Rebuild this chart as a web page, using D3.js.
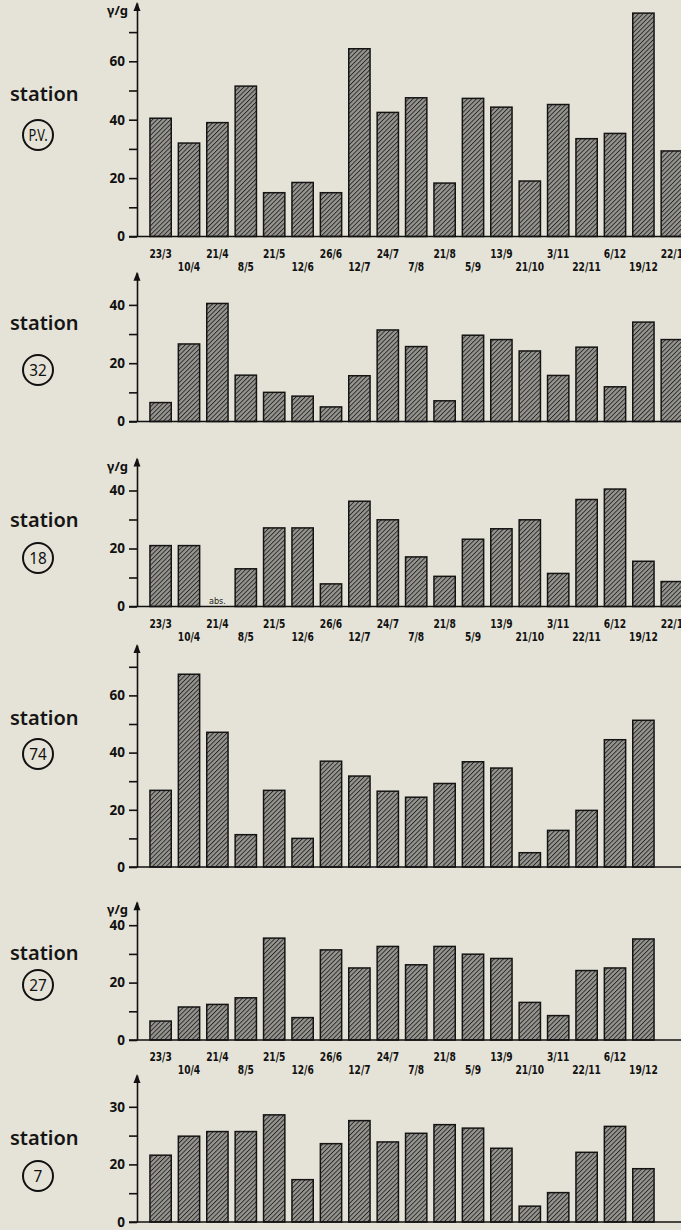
<!DOCTYPE html>
<html>
<head>
<meta charset="utf-8">
<script src="https://cdn.jsdelivr.net/npm/d3@7"></script>
<style>
  body { margin: 0; background: #e5e3d7; }
  svg { display: block; }
</style>
</head>
<body>
<div id="chart"></div>
<script>
// sampling dates (shared by every station)
var dates = ["23/3","10/4","21/4","8/5","21/5","12/6","26/6","12/7","24/7","7/8",
             "21/8","5/9","13/9","21/10","3/11","22/11","6/12","19/12","22/1"];

// γ/g per station, null = no bar
var pvValues  = [40.5,32,39,51.5,15,18.5,15,64.3,42.5,47.5,18.3,47.3,44.3,19,45.2,33.5,35.3,76.5,29.3];
var st32Values = [6.5,26.6,40.5,15.9,10,8.7,5,15.7,31.4,25.7,7.1,29.6,28.1,24.2,15.8,25.5,11.9,34.1,28.1];
var st18Values = [21,21,null,13,27.1,27.1,7.8,36.3,29.9,17.1,10.4,23.2,26.8,29.9,11.4,36.9,40.5,15.6,8.6];
var st74Values = [26.8,67.4,47.1,11.3,26.8,10,37,31.8,26.5,24.4,29.2,36.8,34.6,5,12.8,19.8,44.5,51.3,null];
var st27Values = [6.6,11.5,12.4,14.7,35.5,7.8,31.4,25.1,32.6,26.2,32.6,29.9,28.4,13.1,8.5,24.2,25.1,35.2,null];
var st7Values  = [21.6,24.9,25.7,25.7,28.6,14.7,23.6,27.6,23.9,25.4,26.9,26.3,22.8,5.5,10.2,22.1,26.6,18.5,null];

// axis ticks
var ticks80 = [0,10,20,30,40,50,60,70];
var ticks40 = [0,10,20,30,40];
var ticks7  = [0,10,20,25,30];
var labels80 = [0,20,40,60];
var labels40 = [0,20,40];
var labels7  = [0,20,30];

var W = 681, H = 1230;
var axisX = 137;

var svg = d3.select("#chart").append("svg")
    .attr("width", W).attr("height", H);

var defs = svg.append("defs");
var pat = defs.append("pattern")
    .attr("id", "hatch")
    .attr("patternUnits", "userSpaceOnUse")
    .attr("width", 3.2).attr("height", 3.2)
    .attr("patternTransform", "rotate(45)");
pat.append("rect").attr("width", 3.2).attr("height", 3.2).attr("fill", "#96958f");
pat.append("line").attr("x1", 0).attr("y1", 0).attr("x2", 0).attr("y2", 3.2)
    .attr("stroke", "#262626").attr("stroke-width", 1.8);

var x = d3.scaleBand()
    .domain(dates)
    .range([146.4, 686])
    .paddingInner(0.25)
    .paddingOuter(0.125);

var panels = [
  {id: "P.V.", values: pvValues, zero: 236.5, dom: [0, 80], ppu: 2.92, ticks: ticks80, labels: labels80,
   dates: dates, unit: true, stationY: 101, circleY: 135},
  {id: "32", values: st32Values, zero: 421.5, dom: [0, 51], ppu: 2.915, ticks: ticks40, labels: labels40,
   dates: null, unit: false, stationY: 330, circleY: 370},
  {id: "18", values: st18Values, zero: 606.5, dom: [0, 51], ppu: 2.9, ticks: ticks40, labels: labels40,
   dates: dates, unit: true, stationY: 527, circleY: 558},
  {id: "74", values: st74Values, zero: 867, dom: [0, 77.6], ppu: 2.86, ticks: ticks80, labels: labels80,
   dates: null, unit: false, stationY: 725, circleY: 754},
  {id: "27", values: st27Values, zero: 1040, dom: [0, 48], ppu: 2.87, ticks: ticks40, labels: labels40,
   dates: dates.slice(0, 18), unit: true, stationY: 960, circleY: 985},
  {id: "7", values: st7Values, zero: 1222, dom: [0, 20, 30, 35.5], ppu: 2.88, ticks: ticks7, labels: labels7,
   dates: null, unit: false, stationY: 1145, circleY: 1176}
];

panels.forEach(function(p) {
  var y;
  if (p.dom.length > 2) {
    // station 7 axis is printed 0 / 20 / 30 with equal spacing
    var r = [p.zero, p.zero - 20 * p.ppu, p.zero - 40 * p.ppu, p.zero - 40 * p.ppu - 5.5 * p.ppu * 2];
    y = d3.scaleLinear().domain(p.dom).range(r);
  } else {
    y = d3.scaleLinear().domain(p.dom).range([p.zero, p.zero - p.dom[1] * p.ppu]);
  }
  var g = svg.append("g");
  var top = y.range()[y.range().length - 1];

  // bars
  g.selectAll("rect.bar")
    .data(dates.map(function(d, i) { return {date: d, v: p.values[i]}; })
               .filter(function(d) { return d.v != null; }))
    .enter().append("rect")
    .attr("class", "bar")
    .attr("x", function(d) { return x(d.date); })
    .attr("y", function(d) { return y(d.v); })
    .attr("width", x.bandwidth())
    .attr("height", function(d) { return p.zero - y(d.v); })
    .attr("fill", "url(#hatch)")
    .attr("stroke", "#141414")
    .attr("stroke-width", 1.5);

  if (p.id === "18") {
    g.append("text")
      .attr("x", x("21/4") + x.bandwidth() / 2)
      .attr("y", p.zero - 3)
      .attr("text-anchor", "middle")
      .attr("font-family", "DejaVu Sans Condensed, DejaVu Sans")
      .attr("font-size", 9)
      .attr("fill", "#222")
      .text("abs.");
  }

  // y axis
  var yAxis = d3.axisLeft(y)
    .tickValues(p.ticks)
    .tickSize(8)
    .tickSizeOuter(0)
    .tickPadding(4)
    .tickFormat(function(d) { return p.labels.indexOf(d) >= 0 ? d : ""; });
  var ag = g.append("g")
    .attr("transform", "translate(" + axisX + ",0)")
    .call(yAxis);
  ag.select(".domain").attr("stroke", "#111").attr("stroke-width", 1.6);
  ag.selectAll(".tick line").attr("stroke", "#111").attr("stroke-width", 1.6);
  ag.selectAll(".tick text")
    .attr("font-family", "Noto Sans, DejaVu Sans")
    .attr("font-weight", "bold")
    .attr("font-size", 13.5)
    .attr("fill", "#111");

  // arrow head
  g.append("path")
    .attr("d", "M" + (axisX - 3.5) + "," + (top + 8) + "L" + axisX + "," + (top - 1) + "L" + (axisX + 3.5) + "," + (top + 8) + "Z")
    .attr("fill", "#111");

  // baseline
  g.append("line")
    .attr("x1", axisX - 8).attr("x2", W)
    .attr("y1", p.zero).attr("y2", p.zero)
    .attr("stroke", "#111").attr("stroke-width", 1.6);

  if (p.unit) {
    g.append("text")
      .attr("x", axisX - 9).attr("y", top + 12)
      .attr("text-anchor", "end")
      .attr("font-family", "Noto Sans, DejaVu Sans")
      .attr("font-weight", "bold")
      .attr("font-size", 13)
      .attr("fill", "#111")
      .text("γ/g");
  }

  if (p.dates) {
    g.selectAll("text.date")
      .data(p.dates)
      .enter().append("text")
      .attr("class", "date")
      .attr("transform", function(d, i) {
        var cx = x(d) + x.bandwidth() / 2;
        var cy = p.zero + (i % 2 === 0 ? 21 : 34);
        return "translate(" + cx + "," + cy + ") scale(0.78,1)";
      })
      .attr("text-anchor", "middle")
      .attr("font-family", "DejaVu Sans Condensed, DejaVu Sans")
      .attr("font-weight", "bold")
      .attr("font-size", 13)
      .attr("fill", "#111")
      .text(function(d) { return d; });
  }

  // station label
  g.append("text")
    .attr("x", 10).attr("y", p.stationY)
    .attr("font-family", "Noto Sans, DejaVu Sans")
    .attr("font-weight", 600)
    .attr("font-size", 20)
    .attr("fill", "#151515")
    .text("station");
  g.append("circle")
    .attr("cx", 38).attr("cy", p.circleY).attr("r", 15)
    .attr("fill", "none").attr("stroke", "#111").attr("stroke-width", 2);
  g.append("text")
    .attr("transform", "translate(38," + (p.circleY + 6) + ") scale(" + (p.id.length > 2 ? 0.8 : 0.9) + ",1)")
    .attr("text-anchor", "middle")
    .attr("font-family", "Noto Sans, DejaVu Sans")
    .attr("font-size", p.id.length > 2 ? 16 : 17)
    .attr("fill", "#111")
    .text(p.id);
});
</script>
</body>
</html>
